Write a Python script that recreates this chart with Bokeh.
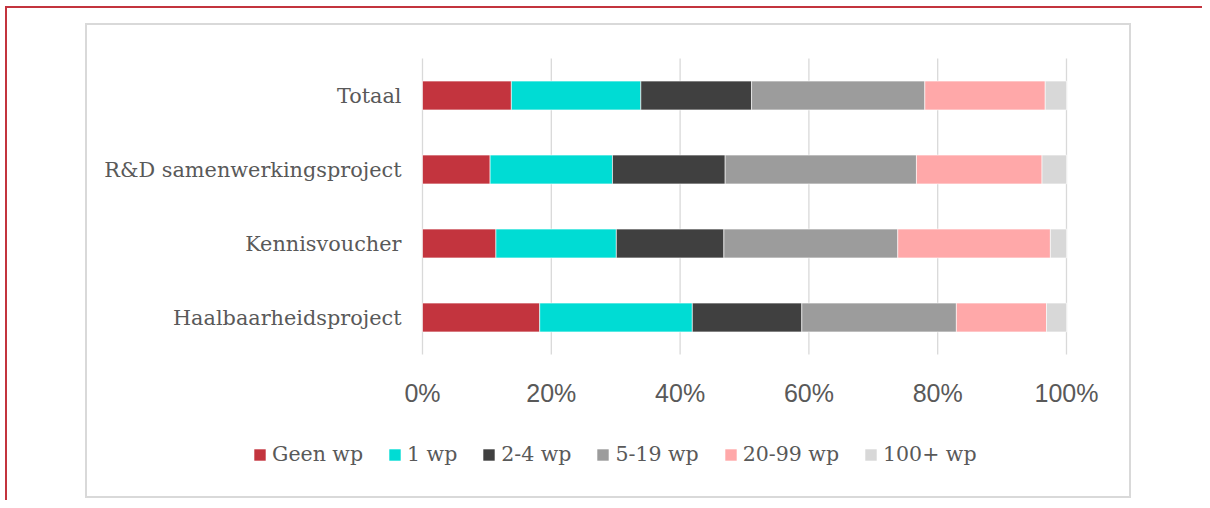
from bokeh.plotting import figure
from bokeh.models import (ColumnDataSource, Range1d, FixedTicker,
                          PrintfTickFormatter, Legend, LegendItem, InlineStyleSheet)
from bokeh.embed import file_html
from bokeh.resources import INLINE

# ---- data (percent of participants per employee-size class) ----
categories = ["Haalbaarheidsproject", "Kennisvoucher", "R&D samenwerkingsproject", "Totaal"]
series = ["Geen wp", "1 wp", "2-4 wp", "5-19 wp", "20-99 wp", "100+ wp"]
geen_wp = [18.2, 11.4, 10.5, 13.8]
een_wp = [23.7, 18.7, 19.0, 20.1]
wp_2_4 = [17.0, 16.7, 17.5, 17.2]
wp_5_19 = [24.0, 27.0, 29.7, 26.9]
wp_20_99 = [14.0, 23.7, 19.5, 18.7]
wp_100 = [3.1, 2.5, 3.8, 3.3]
x_ticks = [0, 20, 40, 60, 80, 100]

colors = ["#c3343e", "#00dcd4", "#404040", "#9c9c9c", "#ffa8a9", "#d8d8d8"]
keys = ["geen", "een", "w24", "w519", "w2099", "w100"]

# ---- layout (pixels) ----
W, H = 1202, 500
FL, FR, FT, FB = 87, 1129, 25, 496          # plotting frame = inside of the chart box
X0PX, X100PX = 422, 1066                     # where 0% and 100% sit
YTOP, YBOT = 58, 354                         # extent of the category bands

n = len(categories)
ypos = [i + 0.5 for i in range(n)]
x_per = (X100PX - X0PX) / 100.0
band = (YBOT - YTOP) / n

source = ColumnDataSource(dict(y=ypos, geen=geen_wp, een=een_wp, w24=wp_2_4,
                               w519=wp_5_19, w2099=wp_20_99, w100=wp_100))

p = figure(width=W, height=H, output_backend="svg", toolbar_location=None,
           x_range=Range1d(-(X0PX - FL) / x_per, 100 + (FR - X100PX) / x_per),
           y_range=Range1d(-(FB - YBOT) / band, n + (YTOP - FT) / band),
           min_border_left=FL, min_border_right=W - FR,
           min_border_top=FT, min_border_bottom=H - FB)
p.background_fill_color = "white"
p.border_fill_color = "white"
p.outline_line_color = None
p.xgrid.grid_line_color = None
p.ygrid.grid_line_color = None

# vertical gridlines over the band area only
p.segment(x0=x_ticks, x1=x_ticks, y0=[0] * len(x_ticks), y1=[n] * len(x_ticks),
          line_color="#d9d9d9", line_width=1.3)

renderers = p.hbar_stack(keys, y="y", height=0.39, color=colors, source=source,
                         line_color="white", line_width=0.6)

# x axis (labels pulled up under the bars)
xa = p.xaxis[0]
xa.ticker = FixedTicker(ticks=x_ticks)
xa.formatter = PrintfTickFormatter(format="%d%%")
xa.axis_line_color = None
xa.major_tick_line_color = None
xa.minor_tick_line_color = None
xa.major_tick_out = 0
xa.major_tick_in = 0
xa.major_label_standoff = -118
xa.major_label_text_font = "Liberation Sans"
xa.major_label_text_font_size = "25px"
xa.major_label_text_color = "#595959"

# y axis with category names
ya = p.yaxis[0]
ya.ticker = FixedTicker(ticks=ypos)
ya.major_label_overrides = {y: c for y, c in zip(ypos, categories)}
ya.axis_line_color = None
ya.major_tick_line_color = None
ya.minor_tick_line_color = None
ya.major_tick_out = 0
ya.major_tick_in = 0
ya.major_label_standoff = FL - 401
ya.major_label_text_font = "DejaVu Serif"
ya.major_label_text_font_size = "20.8px"
ya.major_label_text_color = "#595959"

# legend
items = [LegendItem(label=s, renderers=[r]) for s, r in zip(series, renderers)]
legend = Legend(items=items, orientation="horizontal", location=(252 - FL, FB - 466),
                glyph_width=15, glyph_height=15, label_standoff=5, spacing=24,
                padding=0, margin=0, border_line_color=None, background_fill_alpha=0,
                label_text_font="DejaVu Serif", label_text_font_size="20.5px",
                label_text_color="#595959")
p.add_layout(legend, "center")

# chart box (grey) and page frame (red) drawn as overlays
css = """
:host::before {
  content: ""; position: absolute; left: 5px; top: 6px; right: 0; bottom: 0;
  border-left: 2px solid #c3343e; border-top: 2px solid #c3343e;
  pointer-events: none; z-index: 5;
}
:host::after {
  content: ""; position: absolute; left: 85px; top: 23px; width: 1046px; height: 475px;
  box-sizing: border-box; border: 2px solid #d9d9d9;
  pointer-events: none; z-index: 5;
}
"""
p.stylesheets = [InlineStyleSheet(css=css)]

open("out.html", "w").write(file_html(p, INLINE))
